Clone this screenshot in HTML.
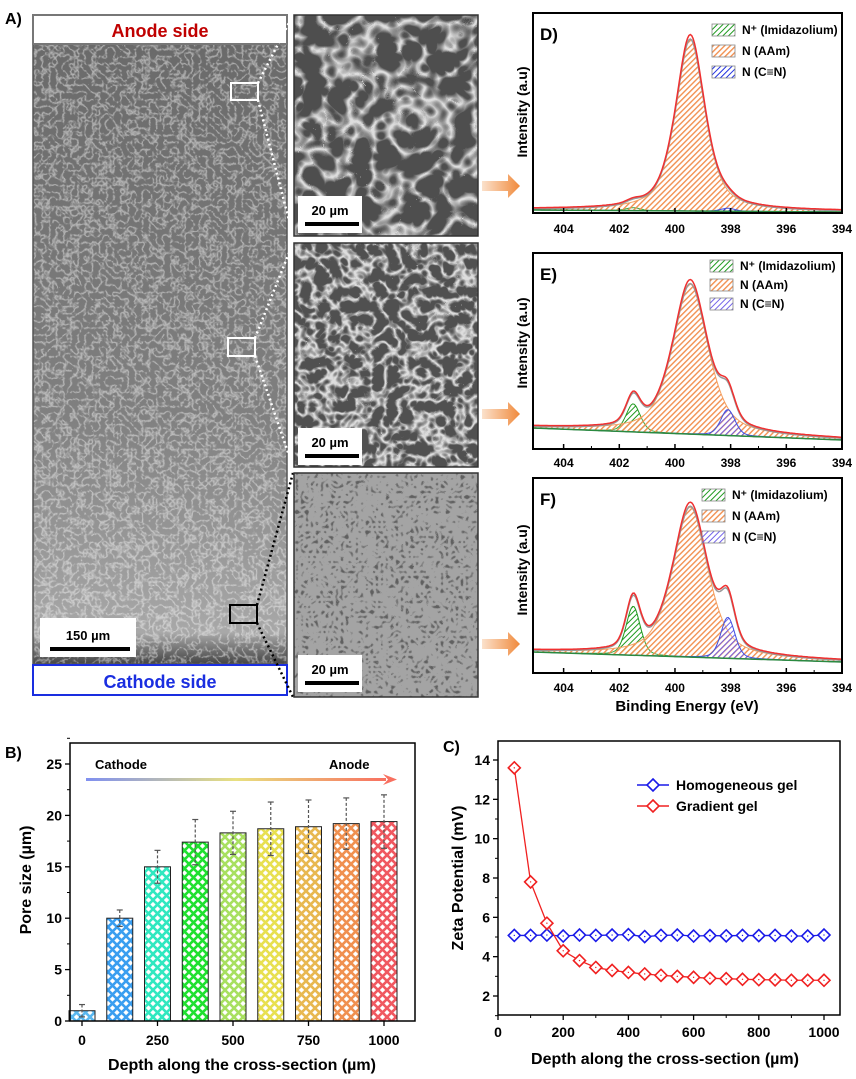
<!DOCTYPE html>
<html><head><meta charset="utf-8"><style>
html,body{margin:0;padding:0;background:#fff}
svg{display:block;font-family:"Liberation Sans",Arial,sans-serif}
</style></head><body>
<svg id="fig" width="856" height="1079" viewBox="0 0 856 1079" xmlns="http://www.w3.org/2000/svg">
<defs>
<filter id="semA" x="0" y="0" width="100%" height="100%"><feTurbulence type="turbulence" baseFrequency="0.14" numOctaves="2" seed="3"/><feColorMatrix type="matrix" values="0 0 0 0 1  0 0 0 0 1  0 0 0 0 1  -3 0 0 0 0.85"/></filter>
<filter id="semB" x="0" y="0" width="100%" height="100%"><feTurbulence type="turbulence" baseFrequency="0.04" numOctaves="2" seed="5"/><feColorMatrix type="matrix" values="0 0 0 0 0.85  0 0 0 0 0.85  0 0 0 0 0.85  -4 0 0 0 1.15"/></filter>
<filter id="semC" x="0" y="0" width="100%" height="100%"><feTurbulence type="turbulence" baseFrequency="0.07" numOctaves="2" seed="8"/><feColorMatrix type="matrix" values="0 0 0 0 0.85  0 0 0 0 0.85  0 0 0 0 0.85  -4 0 0 0 1.2"/></filter>
<filter id="semD" x="0" y="0" width="100%" height="100%"><feTurbulence type="turbulence" baseFrequency="0.2" numOctaves="1" seed="2"/><feColorMatrix type="matrix" values="0 0 0 0 0.1  0 0 0 0 0.1  0 0 0 0 0.1  4 0 0 0 -0.9"/></filter>
<linearGradient id="bigGrad" x1="0" y1="0" x2="0" y2="1"><stop offset="0" stop-color="#6a6a6a"/><stop offset="0.6" stop-color="#808080"/><stop offset="0.95" stop-color="#a8a8a8"/><stop offset="1" stop-color="#444"/></linearGradient>
<linearGradient id="arrG" x1="0" x2="1"><stop offset="0" stop-color="#fbe1cc"/><stop offset="1" stop-color="#f08a3c"/></linearGradient>
<linearGradient id="gradArrow" x1="0" x2="1"><stop offset="0" stop-color="#8090f0"/><stop offset="0.5" stop-color="#e8e080"/><stop offset="1" stop-color="#f87060"/></linearGradient>
</defs>

<text x="5" y="24" font-size="16" font-weight="bold">A)</text>
<g>
<rect x="33" y="44" width="254" height="620" fill="url(#bigGrad)"/>
<rect x="33" y="44" width="254" height="620" filter="url(#semA)" opacity="0.6"/>
<rect x="33" y="44" width="254" height="620" fill="none" stroke="#555" stroke-width="1.5"/>
</g>
<rect x="33" y="15" width="254" height="29" fill="#fff" stroke="#777" stroke-width="2"/>
<text x="160" y="37" text-anchor="middle" font-size="18" font-weight="bold" fill="#c00000">Anode side</text>
<rect x="33" y="665" width="254" height="30" fill="#fff" stroke="#1a2ee0" stroke-width="2"/>
<text x="160" y="688" text-anchor="middle" font-size="18" font-weight="bold" fill="#1a2ee0">Cathode side</text>
<rect x="40" y="618" width="96" height="39" fill="#fff"/>
<text x="88" y="640" text-anchor="middle" font-size="13" font-weight="bold">150 µm</text>
<rect x="50" y="647" width="80" height="4" fill="#000"/>
<rect x="231" y="83" width="27" height="17" fill="none" stroke="#fff" stroke-width="2"/>
<rect x="228" y="338" width="27" height="18" fill="none" stroke="#fff" stroke-width="2"/>
<rect x="230" y="605" width="27" height="18" fill="none" stroke="#000" stroke-width="2"/>
<g stroke-dasharray="2,3" stroke-width="2.5">
<line x1="258" y1="83" x2="293" y2="15" stroke="#fff"/><line x1="258" y1="100" x2="293" y2="236" stroke="#fff"/>
<line x1="255" y1="338" x2="293" y2="243" stroke="#fff"/><line x1="255" y1="356" x2="293" y2="467" stroke="#fff"/>
<line x1="257" y1="605" x2="293" y2="473" stroke="#000"/><line x1="257" y1="623" x2="293" y2="697" stroke="#000"/>
</g>
<g>
<rect x="294" y="15" width="184" height="221" fill="#4e4e4e"/>
<rect x="294" y="15" width="184" height="221" filter="url(#semB)" opacity="0.9"/>
<rect x="294" y="15" width="184" height="221" fill="none" stroke="#333" stroke-width="1.5"/>
<rect x="298" y="196" width="64" height="37" fill="#fff"/>
<text x="330" y="215" text-anchor="middle" font-size="13" font-weight="bold">20 µm</text><rect x="305" y="222" width="54" height="4" fill="#000"/>
</g>
<g>
<rect x="294" y="243" width="184" height="224" fill="#505050"/>
<rect x="294" y="243" width="184" height="224" filter="url(#semC)" opacity="0.9"/>
<rect x="294" y="243" width="184" height="224" fill="none" stroke="#333" stroke-width="1.5"/>
<rect x="298" y="428" width="64" height="37" fill="#fff"/>
<text x="330" y="447" text-anchor="middle" font-size="13" font-weight="bold">20 µm</text><rect x="305" y="454" width="54" height="4" fill="#000"/>
</g>
<g>
<rect x="294" y="473" width="184" height="224" fill="#a4a4a4"/>
<rect x="294" y="473" width="184" height="224" filter="url(#semD)" opacity="0.9"/>
<rect x="294" y="473" width="184" height="224" fill="none" stroke="#333" stroke-width="1.5"/>
<rect x="298" y="655" width="64" height="37" fill="#fff"/>
<text x="330" y="674" text-anchor="middle" font-size="13" font-weight="bold">20 µm</text><rect x="305" y="681" width="54" height="4" fill="#000"/>
</g>
<g fill="url(#arrG)">
<polygon points="482,181 508,181 508,174 520,186 508,198 508,191 482,191"/>
<polygon points="482,409 508,409 508,402 520,414 508,426 508,419 482,419"/>
<polygon points="482,639 508,639 508,632 520,644 508,656 508,649 482,649"/>
</g>
<g id="xps"></g>
<g id="barB"></g>
<g id="lineC"></g>
</svg>
<script>
const NS='http://www.w3.org/2000/svg';
function el(tag,attrs,parent,text){const e=document.createElementNS(NS,tag);for(const k in attrs)e.setAttribute(k,attrs[k]);if(text!==undefined)e.textContent=text;parent.appendChild(e);return e;}
const defs=document.querySelector('defs');

// ---------- XPS data ----------
const xpsTicks=[404,402,400,398,396,394];
const xpsCenters=[401.5,399.45,398.1];
const xpsNames=['N⁺ (Imidazolium)','N (AAm)','N (C≡N)'];
const dHeights=[3,172,3];
const eHeights=[28,150,26];
const fHeights=[49,150,41];
const xpsWidths=[0.6,1.5,0.6];
const dWidths=[0.6,1.25,0.6];

function hatch(id,color,sw){const p=el('pattern',{id:id,patternUnits:'userSpaceOnUse',width:4,height:4,patternTransform:'rotate(45)'},defs);el('rect',{width:4,height:4,fill:'#fff','fill-opacity':0.15},p);el('line',{x1:0,y1:0,x2:0,y2:4,stroke:color,'stroke-width':sw},p);}
hatch('hG','#1f9a1f',2);hatch('hO','#f29050',2.8);hatch('hB','#2030e0',2);hatch('hP','#6a5ae8',1.9);
const xpsG=document.getElementById('xps');
const panels=[
 {lab:'D)',y0:13,y1:213,bl:[210,212],h:dHeights,w:dWidths,legY:[30,51,72],legX:712,pats:['hG','hO','hB'],ticksY:233,ly:112},
 {lab:'E)',y0:253,y1:449,bl:[428,440],h:eHeights,w:xpsWidths,legY:[266,285,304],legX:710,pats:['hG','hO','hP'],ticksY:467,ly:343},
 {lab:'F)',y0:478,y1:673,bl:[652,662],h:fHeights,w:xpsWidths,legY:[495,516,537],legX:702,pats:['hG','hO','hP'],ticksY:692,ly:570}];
const XL=405.1,XR=394,PX0=533,PX1=842;
const xs=v=>PX0+(XL-v)/(XL-XR)*(PX1-PX0);
function pv(x,c,w,eta){const t=(x-c)/(w/2);return eta/(1+t*t)+(1-eta)*Math.exp(-Math.LN2*t*t);}
panels.forEach((P,pi)=>{
 const g=el('g',{},xpsG);
 
 
 const base=v=>P.bl[0]+(XL-v)/(XL-XR)*(P.bl[1]-P.bl[0]);
 const N=220,pts=[];for(let i=0;i<=N;i++)pts.push(XL-(XL-XR)*i/N);
 const env=pts.map(()=>0);
 xpsCenters.forEach((c,k)=>{
  const eta=k==1?0.6:0.3;
  let d='';pts.forEach((v,i)=>{const y=P.h[k]*pv(v,c,P.w[k],eta);env[i]+=y;d+=(i?'L':'M')+xs(v).toFixed(1)+','+(base(v)-y).toFixed(1);});
  for(let i=N;i>=0;i--)d+='L'+xs(pts[i]).toFixed(1)+','+base(pts[i]).toFixed(1);
  const p=el('path',{d:d+'Z',fill:'url(#'+P.pats[k]+')',stroke:['#1f9a1f','#f5a060','#4050e0'][k],'stroke-width':1},g);
  
  
 });
 let de='',dg='';pts.forEach((v,i)=>{de+=(i?'L':'M')+xs(v).toFixed(1)+','+(base(v)-env[i]*1.02-1).toFixed(1);dg+=(i?'L':'M')+xs(v).toFixed(1)+','+(base(v)-env[i]).toFixed(1);});
 el('path',{d:dg,fill:'none',stroke:'#999','stroke-width':1.5},g);
 const ep=el('path',{d:de,fill:'none',stroke:'#f03030','stroke-width':1.5},g);
 
 
 el('line',{x1:PX0,y1:base(XL),x2:PX1,y2:base(XR),stroke:'#2a8a40','stroke-width':1.5},g);
 el('rect',{x:PX0,y:P.y0,width:PX1-PX0,height:P.y1-P.y0,fill:'none',stroke:'#000','stroke-width':2},g);
 el('text',{x:540,y:P.y0+27,'font-size':17,'font-weight':'bold'},g,P.lab);
 xpsTicks.forEach(t=>{el('line',{x1:xs(t),y1:P.y1,x2:xs(t),y2:P.y1-5,stroke:'#000','stroke-width':1.5},g);el('line',{x1:xs(t-1),y1:P.y1,x2:xs(t-1),y2:P.y1-3,stroke:'#000','stroke-width':1},g);
  const tl=el('text',{x:xs(t),y:P.ticksY,'text-anchor':'middle','font-size':12,'font-weight':'bold'},g,String(t));
  
  });
 const yl=el('text',{x:0,y:0,transform:'translate(527,'+P.ly+') rotate(-90)','text-anchor':'middle','font-size':14,'font-weight':'bold'},g,'Intensity (a.u)');
 
 
 xpsNames.forEach((n,k)=>{const lg=el('g',{},g);
  
  
  el('rect',{x:P.legX,y:P.legY[k]-6,width:23,height:12,fill:'url(#'+P.pats[k]+')',stroke:'#888','stroke-width':0.8},lg);
  el('text',{x:P.legX+30,y:P.legY[k]+4,'font-size':12,'font-weight':'bold'},lg,n);});
});
const xt=el('text',{x:687,y:711,'text-anchor':'middle','font-size':15,'font-weight':'bold'},xpsG,'Binding Energy (eV)');



// ---------- Chart B ----------
const bDepths=[0,125,250,375,500,625,750,875,1000];
const bValues=[1,10,15,17.4,18.3,18.7,18.9,19.2,19.4];
const bErrors=[0.6,0.8,1.6,2.2,2.1,2.6,2.6,2.5,2.6];
const bColors=['#5ab8f0','#3a9ef0','#30e8c0','#20e030','#a8e060','#e8e050','#e8b850','#f09050','#f05860'];
const bYTicks=[0,5,10,15,20,25];
const bXTicks=[0,250,500,750,1000];
const B={x0:70,x1:415,y0:743,y1:1021};
const bx=v=>82+v/1000*(384-82), by=v=>1021-v*(1021-764)/25;
const gB=document.getElementById('barB');


el('text',{x:5,y:758,'font-size':16,'font-weight':'bold'},gB,'B)');
bColors.forEach((c,i)=>{const p=el('pattern',{id:'cx'+i,patternUnits:'userSpaceOnUse',width:9,height:9},defs);el('rect',{width:9,height:9,fill:'#fff'},p);el('path',{d:'M0,0L9,9M9,0L0,9M-1,8L1,10M8,-1L10,1M-1,1L1,-1M8,10L10,8',stroke:c,'stroke-width':2.6},p);});
bValues.forEach((v,i)=>{const x=bx(bDepths[i]);
 const r=el('rect',{x:x-13,y:by(v),width:26,height:by(0)-by(v),fill:'url(#cx'+i+')',stroke:'#222','stroke-width':1},gB);
 
 
 const e=bErrors[i];
 el('line',{x1:x,y1:by(v+e),x2:x,y2:by(v-e),stroke:'#555','stroke-width':1.2,'stroke-dasharray':'3,2'},gB);
 el('line',{x1:x-3,y1:by(v+e),x2:x+3,y2:by(v+e),stroke:'#555','stroke-width':1.2},gB);
 el('line',{x1:x-3,y1:by(v-e),x2:x+3,y2:by(v-e),stroke:'#555','stroke-width':1.2},gB);
});
el('rect',{x:B.x0,y:B.y0,width:B.x1-B.x0,height:B.y1-B.y0,fill:'none',stroke:'#000','stroke-width':1.5},gB);
bYTicks.forEach(t=>{el('line',{x1:B.x0,y1:by(t),x2:B.x0-5,y2:by(t),stroke:'#000','stroke-width':1.3},gB);el('line',{x1:B.x0,y1:by(t+2.5),x2:B.x0-3,y2:by(t+2.5),stroke:'#000'},gB);
 el('text',{x:B.x0-8,y:by(t)+5,'text-anchor':'end','font-size':14,'font-weight':'bold'},gB,String(t));});
bXTicks.forEach(t=>{el('line',{x1:bx(t),y1:B.y1,x2:bx(t),y2:B.y1+5,stroke:'#000','stroke-width':1.3},gB);
 el('text',{x:bx(t),y:1045,'text-anchor':'middle','font-size':14,'font-weight':'bold'},gB,String(t));});
el('text',{x:0,y:0,transform:'translate(31,880) rotate(-90)','text-anchor':'middle','font-size':16,'font-weight':'bold'},gB,'Pore size (µm)');
el('text',{x:242,y:1070,'text-anchor':'middle','font-size':16,'font-weight':'bold'},gB,'Depth along the cross-section (µm)');
el('rect',{x:86,y:778,width:300,height:3,fill:'url(#gradArrow)'},gB);
el('polygon',{points:'383,774 397,779.5 383,785 388,779.5',fill:'#f87060'},gB);
el('text',{x:95,y:769,'font-size':13,'font-weight':'bold'},gB,'Cathode');
el('text',{x:329,y:769,'font-size':13,'font-weight':'bold'},gB,'Anode');

// ---------- Chart C ----------
const cDepths=[50,100,150,200,250,300,350,400,450,500,550,600,650,700,750,800,850,900,950,1000];
const cHomog=[5.08,5.08,5.1,5.05,5.1,5.08,5.1,5.12,5.02,5.08,5.1,5.05,5.07,5.06,5.08,5.07,5.08,5.05,5.05,5.1];
const cGrad=[13.6,7.8,5.7,4.3,3.8,3.45,3.3,3.2,3.12,3.05,3.0,2.95,2.9,2.88,2.85,2.83,2.82,2.8,2.8,2.8];
const cYTicks=[2,4,6,8,10,12,14];
const cXTicks=[0,200,400,600,800,1000];
const C={x0:498,x1:840,y0:741,y1:1015};
const cx=v=>498+v/1000*(824-498), cy=v=>996-(v-2)*(996-760)/12;
const gC=document.getElementById('lineC');


el('text',{x:443,y:752,'font-size':16,'font-weight':'bold'},gC,'C)');
function series(vals,color,name){const g=el('g',{},gC);
 
 
 el('polyline',{points:vals.map((v,i)=>cx(cDepths[i])+','+cy(v)).join(' '),fill:'none',stroke:color,'stroke-width':1.3},g);
 vals.forEach((v,i)=>{const x=cx(cDepths[i]),y=cy(v);const m=el('polygon',{points:`${x},${y-6} ${x+6},${y} ${x},${y+6} ${x-6},${y}`,fill:'#fff',stroke:color,'stroke-width':1.6},g);
  
  
  el('circle',{cx:x,cy:y,r:0.7,fill:color},g);});}
series(cHomog,'#1a1ae8','homogeneous-gel-series');
series(cGrad,'#f02020','gradient-gel-series');
el('rect',{x:C.x0,y:C.y0,width:C.x1-C.x0,height:C.y1-C.y0,fill:'none',stroke:'#000','stroke-width':1.5},gC);
cYTicks.forEach(t=>{el('line',{x1:C.x0,y1:cy(t),x2:C.x0-5,y2:cy(t),stroke:'#000','stroke-width':1.3},gC);el('line',{x1:C.x0,y1:cy(t-1),x2:C.x0-3,y2:cy(t-1),stroke:'#000'},gC);
 el('text',{x:C.x0-8,y:cy(t)+5,'text-anchor':'end','font-size':14,'font-weight':'bold'},gC,String(t));});
cXTicks.forEach(t=>{el('line',{x1:cx(t),y1:C.y1,x2:cx(t),y2:C.y1+5,stroke:'#000','stroke-width':1.3},gC);el('line',{x1:cx(t+100),y1:C.y1,x2:cx(t+100),y2:C.y1+3,stroke:'#000'},gC);
 el('text',{x:cx(t),y:1037,'text-anchor':'middle','font-size':14,'font-weight':'bold'},gC,String(t));});
el('text',{x:0,y:0,transform:'translate(463,878) rotate(-90)','text-anchor':'middle','font-size':16,'font-weight':'bold'},gC,'Zeta Potential (mV)');
el('text',{x:665,y:1064,'text-anchor':'middle','font-size':16,'font-weight':'bold'},gC,'Depth along the cross-section (µm)');
[['Homogeneous gel','#1a1ae8',785],['Gradient gel','#f02020',806]].forEach(([n,c,y])=>{const g=el('g',{},gC);
 
 
 el('line',{x1:637,y1:y,x2:669,y2:y,stroke:c,'stroke-width':1.5},g);
 el('polygon',{points:`653,${y-6} 659,${y} 653,${y+6} 647,${y}`,fill:'#fff',stroke:c,'stroke-width':1.6},g);
 el('text',{x:676,y:y+5,'font-size':14,'font-weight':'bold'},g,n);});
</script>
</body></html>
